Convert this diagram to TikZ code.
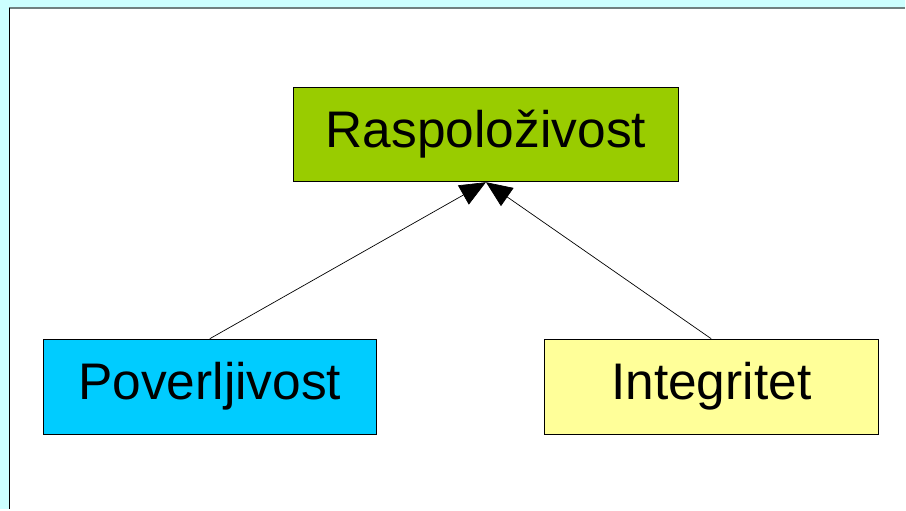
\documentclass[tikz,border=0pt]{standalone}
\usepackage{fontspec}
\setmainfont{Liberation Sans}
\usetikzlibrary{arrows.meta}
\definecolor{pagebg}{HTML}{CCFFFF}
\definecolor{framegray}{HTML}{708080}
\definecolor{topgreen}{HTML}{99CC00}
\definecolor{leftcyan}{HTML}{00CCFF}
\definecolor{rightyellow}{HTML}{FFFF99}
\tikzset{
  box/.style={draw=black, line width=0.8pt, minimum width=#1, minimum height=95pt,
    inner sep=0pt, font=\fontsize{51.5}{60}\selectfont, text=black},
  link/.style={draw=black, line width=0.7pt, -{Triangle[length=26pt, width=22pt]}}
}
\begin{document}
\begin{tikzpicture}[x=1pt, y=-1pt]
  % background and frame
  \fill[pagebg] (0,0) rectangle (906,510);
  \fill[white] (9,8) rectangle (906,510);
  \draw[framegray, line width=2pt] (9,8) -- (906,8);
  \draw[black, line width=1.5pt] (9.5,8) -- (9.5,510);
  \useasboundingbox (0,0) rectangle (906,510);

  \node[box=385pt, fill=topgreen] (avail) at (486.5,134.5) {Raspoloživost};
  \node[box=334pt, fill=leftcyan] (conf) at (210,387) {Poverljivost};
  \node[box=334pt, fill=rightyellow] (integ) at (712,387) {Integritet};

  \draw[link] (conf.north) -- (avail.south);
  \draw[link] (integ.north) -- (avail.south);
\end{tikzpicture}
\end{document}
